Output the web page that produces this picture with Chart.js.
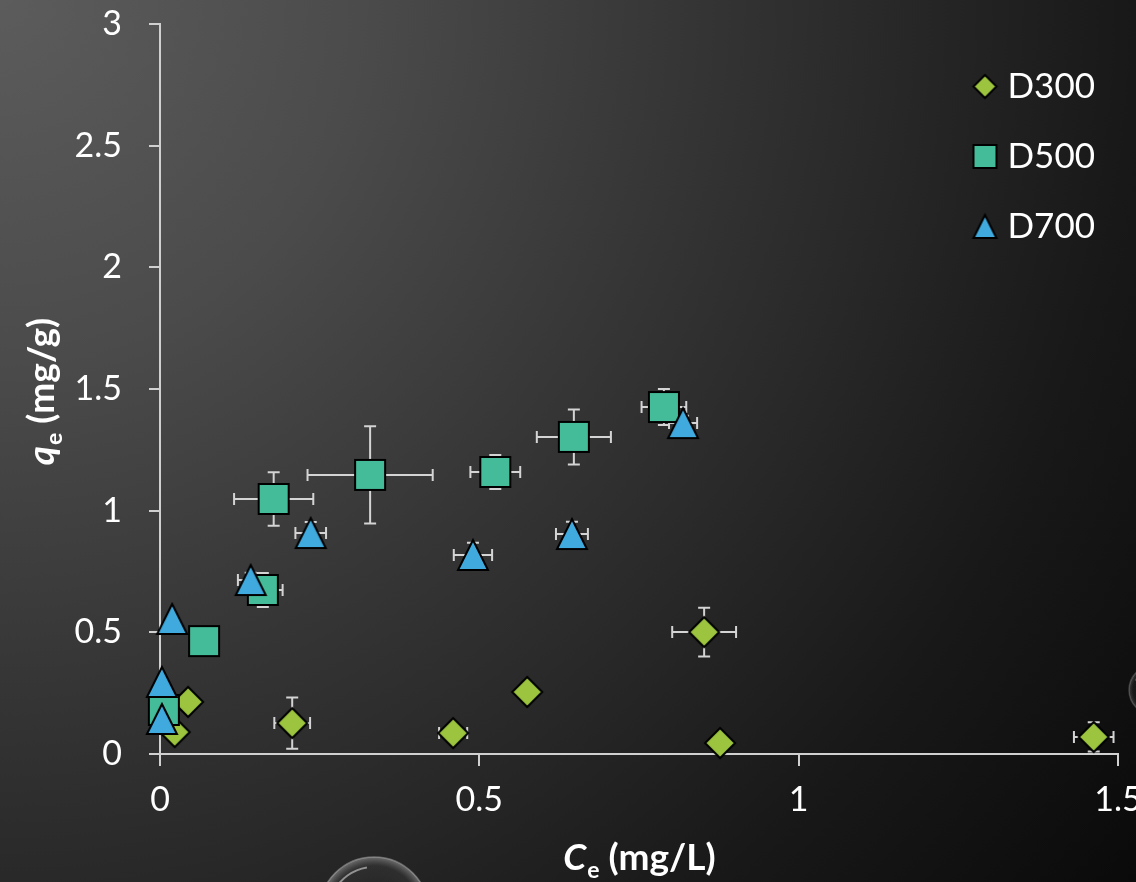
<!DOCTYPE html>
<html>
<head>
<meta charset="utf-8">
<title>qe x Ce</title>
<script src="https://cdn.jsdelivr.net/npm/chart.js@4.4.1/dist/chart.umd.min.js"></script>
<style>
  html, body { margin: 0; padding: 0; }
  body {
    width: 1136px; height: 882px; overflow: hidden;
    background: radial-gradient(circle 1440px at 0 0, #5c5c5c 0%, #4b4b4b 25%, #353535 48%, #282828 62%, #181818 79%, #0a0a0a 100%);
  }
  #wrap { position: relative; width: 1136px; height: 882px; }
</style>
</head>
<body>
<div id="wrap"><canvas id="grafico-isoterma"></canvas></div>
<script>
// séries (Ce em mg/L, qe em mg/g)
const seriesNames = ['D300', 'D500', 'D700'];

const d300X    = [0.023, 0.044, 0.207, 0.459, 0.575, 0.852, 0.877, 1.462];
const d300Y    = [0.090, 0.214, 0.127, 0.086, 0.255, 0.501, 0.045, 0.070];
const d300XErr = [0, 0, 0.028, 0.022, 0, 0.050, 0, 0.031];
const d300YErr = [0, 0, 0.105, 0.010, 0, 0.100, 0, 0.060];

const d500X    = [0.006, 0.069, 0.161, 0.178, 0.329, 0.525, 0.648, 0.789];
const d500Y    = [0.181, 0.464, 0.674, 1.048, 1.147, 1.159, 1.303, 1.426];
const d500XErr = [0, 0, 0.031, 0.062, 0.098, 0.039, 0.058, 0.035];
const d500YErr = [0, 0, 0.070, 0.110, 0.200, 0.070, 0.113, 0.074];

const d700X    = [0.003, 0.003, 0.019, 0.142, 0.236, 0.490, 0.645, 0.819];
const d700Y    = [0.144, 0.296, 0.555, 0.715, 0.908, 0.818, 0.904, 1.360];
const d700XErr = [0, 0, 0, 0.020, 0.024, 0.030, 0.025, 0.022];
const d700YErr = [0, 0, 0, 0.030, 0.045, 0.050, 0.050, 0.030];

const xTickLabels = ['0', '0.5', '1', '1.5'];
const yTickLabels = ['0', '0.5', '1', '1.5', '2', '2.5', '3'];

const xTitleParts = ['C', 'e', ' (mg/L)'];
const yTitleParts = ['q', 'e', ' (mg/g)'];

const cores = ['#9cc43e', '#45bc99', '#40aade'];
const formas = ['diamond', 'square', 'triangle'];
const errX = [d300XErr, d500XErr, d700XErr];
const errY = [d300YErr, d500YErr, d700YErr];
const xs = [d300X, d500X, d700X];
const ys = [d300Y, d500Y, d700Y];

const FONTE = 'Lato, "Open Sans", sans-serif';

// marcadores desenhados num canvas pequeno (centro = ponto)
function fazMarcador(forma, tam, cor) {
    const c = document.createElement('canvas');
    c.width = c.height = tam + 6;
    const g = c.getContext('2d');
    const m = c.width / 2, h = tam / 2;
    g.beginPath();
    if (forma === 'diamond') {
        g.moveTo(m, m - h); g.lineTo(m + h, m); g.lineTo(m, m + h); g.lineTo(m - h, m);
    } else if (forma === 'square') {
        g.rect(m - h, m - h, tam, tam);
    } else {
        g.moveTo(m, m - h); g.lineTo(m + h, m + h); g.lineTo(m - h, m + h);
    }
    g.closePath();
    g.fillStyle = cor;
    g.fill();
    g.lineWidth = 2;
    g.strokeStyle = '#000';
    g.stroke();
    return c;
}

const marcadores = formas.map((f, i) => fazMarcador(f, 30, cores[i]));
const marcadoresLegenda = formas.map((f, i) => fazMarcador(f, 23, cores[i]));

const datasets = seriesNames.map((nome, i) => ({
    label: nome,
    data: xs[i].map((x, k) => ({ x: x, y: ys[i][k] })),
    pointStyle: marcadores[i],
    pointRadius: 16,
    pointHoverRadius: 16,
    backgroundColor: cores[i],
    borderColor: '#000',
    showLine: false,
    clip: false,
    order: seriesNames.length - i
}));

const errorBars = {
    id: 'errorBars',
    beforeDatasetsDraw(chart) {
        const ctx = chart.ctx;
        const sx = chart.scales.x, sy = chart.scales.y;
        const cap = 6;
        ctx.save();
        ctx.strokeStyle = '#d4d4d4';
        ctx.lineWidth = 2;
        chart.data.datasets.forEach((ds, d) => {
            ds.data.forEach((p, k) => {
                const px = sx.getPixelForValue(p.x);
                const py = sy.getPixelForValue(p.y);
                const ex = errX[d][k], ey = errY[d][k];
                ctx.beginPath();
                if (ex > 0) {
                    const x1 = sx.getPixelForValue(p.x - ex), x2 = sx.getPixelForValue(p.x + ex);
                    ctx.moveTo(x1, py); ctx.lineTo(x2, py);
                    ctx.moveTo(x1, py - cap); ctx.lineTo(x1, py + cap);
                    ctx.moveTo(x2, py - cap); ctx.lineTo(x2, py + cap);
                }
                if (ey > 0) {
                    const y1 = sy.getPixelForValue(p.y - ey), y2 = sy.getPixelForValue(p.y + ey);
                    ctx.moveTo(px, y1); ctx.lineTo(px, y2);
                    ctx.moveTo(px - cap, y1); ctx.lineTo(px + cap, y1);
                    ctx.moveTo(px - cap, y2); ctx.lineTo(px + cap, y2);
                }
                ctx.stroke();
            });
        });
        ctx.restore();
    }
};

// bolhas decorativas do fundo do slide
const bolhas = {
    id: 'bolhas',
    beforeDraw(chart) {
        const ctx = chart.ctx;
        [[374, 912, 55, 0.8], [1154, 690, 25, 0.45]].forEach(([bx, by, r, a]) => {
            ctx.save();
            ctx.globalAlpha = a;
            const g = ctx.createRadialGradient(bx, by, r * 0.2, bx, by, r);
            g.addColorStop(0, 'rgba(40,40,40,0.3)');
            g.addColorStop(0.8, 'rgba(70,70,70,0.4)');
            g.addColorStop(1, 'rgba(190,190,190,0.6)');
            ctx.beginPath();
            ctx.arc(bx, by, r, 0, Math.PI * 2);
            ctx.fillStyle = g;
            ctx.fill();
            ctx.strokeStyle = 'rgba(180,180,180,0.6)';
            ctx.lineWidth = 1.5;
            ctx.stroke();
            ctx.beginPath();
            ctx.arc(bx, by, r * 0.82, Math.PI * 1.15, Math.PI * 1.45);
            ctx.strokeStyle = 'rgba(255,255,255,0.6)';
            ctx.lineWidth = 2;
            ctx.stroke();
            ctx.restore();
        });
    }
};

function textoComIndice(ctx, partes, tam) {
    const fGrande = 'italic bold ' + tam + 'px ' + FONTE;
    const fNormal = 'bold ' + tam + 'px ' + FONTE;
    const fIndice = 'bold ' + Math.round(tam * 0.62) + 'px ' + FONTE;
    const fontes = [fGrande, fIndice, fNormal];
    const desloc = [0, tam * 0.22, 0];
    let total = 0;
    const larg = partes.map((t, i) => { ctx.font = fontes[i]; const w = ctx.measureText(t).width; total += w; return w; });
    let x = -total / 2;
    partes.forEach((t, i) => {
        ctx.font = fontes[i];
        ctx.fillText(t, x, desloc[i]);
        x += larg[i] + (i === 0 ? 1 : 0);
    });
}

const axisTitles = {
    id: 'axisTitles',
    afterDraw(chart) {
        const ctx = chart.ctx;
        const area = chart.chartArea;
        ctx.save();
        ctx.fillStyle = '#ffffff';
        ctx.textBaseline = 'alphabetic';
        ctx.textAlign = 'left';
        ctx.translate((area.left + area.right) / 2, 870);
        textoComIndice(ctx, xTitleParts, 37);
        ctx.restore();

        ctx.save();
        ctx.fillStyle = '#ffffff';
        ctx.textBaseline = 'alphabetic';
        ctx.textAlign = 'left';
        ctx.translate(54, 392);
        ctx.rotate(-Math.PI / 2);
        textoComIndice(ctx, yTitleParts, 37);
        ctx.restore();
    }
};

// legenda dentro da área do gráfico, canto superior direito
const legendPlace = {
    id: 'legendPlace',
    afterLayout(chart) {
        const lg = chart.legend;
        if (!lg) return;
        const area = chart.chartArea;
        lg.left = area.right - 173;
        lg.top = area.top + 10;
        lg.right = chart.width;
        lg.bottom = chart.height;
        lg.width = lg.right - lg.left;
        lg.height = lg.bottom - lg.top;
    }
};

const eixoCor = '#d0d0d0';
const ctx = document.getElementById('grafico-isoterma').getContext('2d');
new Chart(ctx, {
    type: 'scatter',
    data: { datasets: datasets },
    options: {
        responsive: true,
        maintainAspectRatio: false,
        animation: false,
        layout: { padding: { top: 24, right: 18, bottom: 0, left: 0 } },
        scales: {
            x: {
                type: 'linear',
                min: 0, max: 1.5,
                ticks: {
                    stepSize: 0.5,
                    color: '#ffffff',
                    font: { family: FONTE, size: 34 },
                    padding: 14,
                    maxRotation: 0,
                    autoSkip: false,
                    callback: (v, i) => xTickLabels[i]
                },
                grid: { display: true, drawOnChartArea: false, drawTicks: true, tickLength: 12, color: eixoCor, lineWidth: 2 },
                border: { display: true, color: eixoCor, width: 2 },
                afterFit(scale) {
                    scale.height = 128;
                    scale.paddingLeft = 0;
                    scale.paddingRight = 0;
                }
            },
            y: {
                type: 'linear',
                min: 0, max: 3,
                ticks: {
                    stepSize: 0.5,
                    color: '#ffffff',
                    font: { family: FONTE, size: 34 },
                    padding: 27,
                    callback: (v, i) => yTickLabels[i]
                },
                grid: { display: true, drawOnChartArea: false, drawTicks: true, tickLength: 11, color: eixoCor, lineWidth: 2 },
                border: { display: true, color: eixoCor, width: 2 },
                afterFit(scale) {
                    scale.width = 160;
                    scale.paddingTop = 0;
                    scale.paddingBottom = 0;
                }
            }
        },
        plugins: {
            legend: {
                display: true,
                position: 'chartArea',
                align: 'start',
                labels: {
                    usePointStyle: true,
                    boxWidth: 10,
                    padding: 35,
                    color: '#ffffff',
                    font: { family: FONTE, size: 35 },
                    generateLabels: (chart) => chart.data.datasets.map((ds, i) => ({
                        text: ds.label,
                        pointStyle: marcadoresLegenda[i],
                        fillStyle: cores[i],
                        strokeStyle: '#000',
                        lineWidth: 0,
                        fontColor: '#ffffff',
                        hidden: false,
                        datasetIndex: i
                    }))
                }
            },
            tooltip: { enabled: false }
        }
    },
    plugins: [bolhas, errorBars, axisTitles, legendPlace]
});
</script>
</body>
</html>
